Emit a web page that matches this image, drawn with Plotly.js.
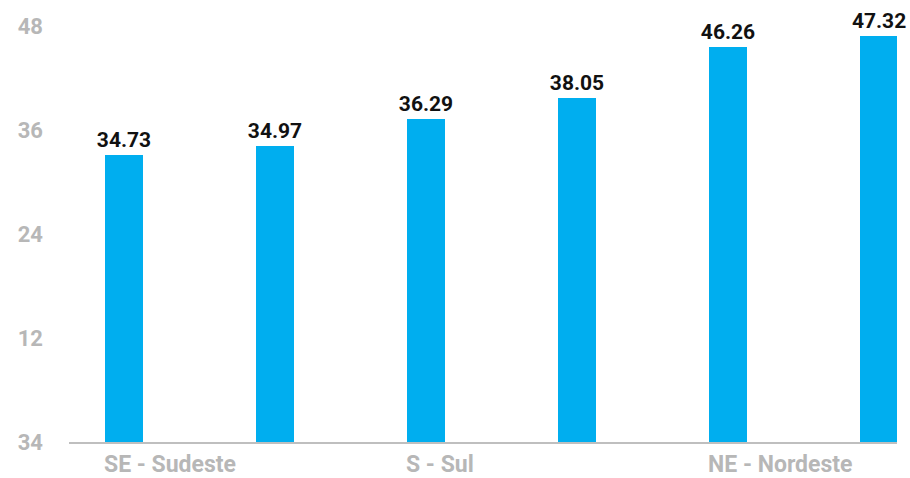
<!DOCTYPE html>
<html>
<head>
<meta charset="utf-8">
<script src="https://cdn.plot.ly/plotly-3.0.1.min.js"></script>
<style>html,body{margin:0;padding:0;background:#fff;}#chart{width:910px;height:478px;}</style>
</head>
<body>
<div id="chart"></div>
<script>
// Bar positions (category index) and heights as read against the y axis
const barIndex = [0, 1, 2, 3, 4, 5];
const barHeights = [33.1, 34.15, 37.25, 39.7, 45.6, 46.85];
// Value labels printed above the bars
const valueLabels = ["34.73", "34.97", "36.29", "38.05", "46.26", "47.32"];
// X axis labels (one per pair of bars)
const xTickVals = [0, 2, 4];
const xTickText = ["SE - Sudeste", "S - Sul", "NE - Nordeste"];
// Y axis ticks as printed
const yTickVals = [0, 12, 24, 36, 48];
const yTickText = ["34", "12", "24", "36", "48"];

const FONT = "Roboto, 'Liberation Sans', sans-serif";
const GREY = "#b7b7b7";

const trace = {
  type: "bar",
  x: barIndex,
  y: barHeights,
  text: valueLabels,
  textposition: "outside",
  constraintext: "none",
  cliponaxis: false,
  textfont: {family: FONT, size: 21, color: "#111111", weight: 700},
  marker: {color: "#00AEEF"},
  width: 0.252,
  hoverinfo: "none"
};

const layout = {
  width: 910, height: 478,
  margin: {l: 69, r: 13, t: 26, b: 36},
  paper_bgcolor: "#ffffff",
  plot_bgcolor: "#ffffff",
  showlegend: false,
  bargap: 0,
  xaxis: {
    range: [-0.364, 5.119],
    tickvals: xTickVals,
    ticktext: xTickText,
    ticks: "",
    ticklabelposition: "outside right",
    ticklabelshift: -21,
    ticklabelstandoff: 0,
    showgrid: false,
    zeroline: false,
    showline: true,
    linecolor: "#bfbfbf",
    linewidth: 2,
    tickfont: {family: FONT, size: 23, color: GREY, weight: 700}
  },
  yaxis: {
    range: [0, 48],
    tickvals: yTickVals,
    ticktext: yTickText,
    ticks: "",
    ticklabelstandoff: 25,
    showgrid: false,
    zeroline: false,
    showline: false,
    tickfont: {family: FONT, size: 22, color: GREY, weight: 700}
  }
};

Plotly.newPlot("chart", [trace], layout, {displayModeBar: false, staticPlot: true});
</script>
</body>
</html>
